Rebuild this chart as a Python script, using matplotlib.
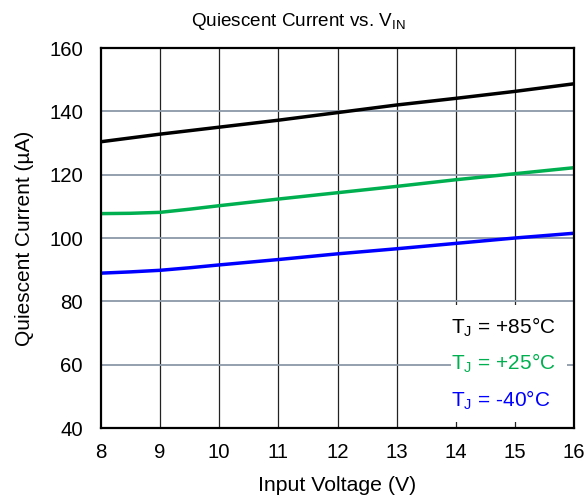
import matplotlib
matplotlib.use('Agg')
import matplotlib.pyplot as plt
from matplotlib.patches import Rectangle

plt.rcParams['font.family'] = ['Liberation Sans', 'DejaVu Sans']

# --- Données ---
v_in = [8, 8.5, 9, 9.5, 10, 11, 12, 13, 14, 15, 16]
iq_85 = [130.4, 131.6, 132.8, 133.9, 135.0, 137.2, 139.6, 142.0, 144.1, 146.3, 148.7]
iq_25 = [107.7, 107.8, 108.1, 109.1, 110.2, 112.3, 114.3, 116.3, 118.4, 120.3, 122.2]
iq_m40 = [88.9, 89.3, 89.8, 90.6, 91.5, 93.2, 95.0, 96.6, 98.3, 100.0, 101.5]

labels = [r'T$_\mathregular{J}$ = +85°C', r'T$_\mathregular{J}$ = +25°C', r'T$_\mathregular{J}$ = -40°C']
colors = ['#000000', '#00B050', '#0000FF']

fig = plt.figure(figsize=(5.87, 5.0), dpi=100)
ax = fig.add_axes([0.172, 0.144, 0.806, 0.760])

for y, c in zip([iq_85, iq_25, iq_m40], colors):
    ax.plot(v_in, y, color=c, linewidth=2.5, zorder=3)

ax.set_xlim(8, 16)
ax.set_ylim(40, 160)
ax.set_xticks(range(8, 17))
ax.set_yticks(range(40, 161, 20))

# grille : verticales noires, horizontales gris-bleu
for x in range(9, 16):
    ax.axvline(x, color='#222222', linewidth=0.9, zorder=1)
for y in range(60, 160, 20):
    ax.axhline(y, color='#8C99A8', linewidth=1.3, zorder=1)

for s in ax.spines.values():
    s.set_linewidth(1.6)
    s.set_zorder(5)

ax.tick_params(length=0, labelsize=14.7)
ax.tick_params(axis='y', pad=13)
ax.tick_params(axis='x', pad=11)

ax.set_xlabel('Input Voltage (V)', fontsize=15.3)
ax.set_ylabel('Quiescent Current (µA)', fontsize=15)
ax.xaxis.set_label_coords(0.5, -0.127)
ax.yaxis.set_label_coords(-0.142, 0.5)

fig.text(0.508, 0.958, r'Quiescent Current vs. V$_\mathregular{IN}$', fontsize=13.6,
         ha='center', va='center')

# légende : fond blanc qui masque la grille
ax.add_patch(Rectangle((0.739, 0.016), 0.246, 0.308, transform=ax.transAxes,
                       facecolor='white', edgecolor='none', zorder=2))
for lab, c, yy in zip(labels, colors, [0.266, 0.171, 0.074]):
    ax.text(0.739, yy, lab, color=c, fontsize=15, transform=ax.transAxes,
            ha='left', va='center', zorder=4)

plt.savefig('out.png', dpi=100)
plt.close()
